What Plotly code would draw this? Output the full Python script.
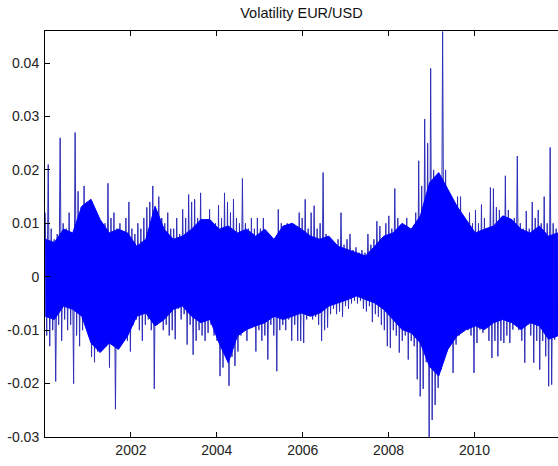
import pandas as pd
import plotly.graph_objects as go

# Daily EUR/USD return extremes, in units of 1e-3
# (one high and one low per ~3-pixel slice, left to right)
hi_a = [12, 21, 9, 7, 8, 26, 10, 9, 12, 8, 27, 16, 13, 17, 14, 11, 10, 12, 9, 8, 10, 17.5,
        11, 12, 9, 10, 8, 11, 14, 9, 8, 10, 9, 11, 13, 14, 17, 12, 15, 11, 10, 12, 9]
lo_a = [-11, -13, -10, -19.6, -9, -12, -8, -10, -9, -20, -11, -13, -10, -9, -8, -15, -16, -14,
        -12, -11, -13, -17, -12, -24.8, -13, -11, -10, -12, -14, -9, -8, -10, -12, -9, -8, -10,
        -21, -9, -8, -10, -9, -11, -10]
hi_b = [9, 11, 8, 12.6, 11, 15.4, 14, 14.5, 11, 15.7, 10, 9, 12.6, 9, 10, 13.4, 11, 15.7, 14, 12,
        14.5, 11, 10, 18.4, 10, 9, 11, 9, 11, 9, 11, 8, 6, 5.5, 7, 12.6, 10, 8, 10, 8, 9, 8, 12]
lo_b = [-11.7, -6, -8, -7, -12.7, -9, -14.6, -12, -10, -11, -12, -10.5, -9, -11, -12, -18.6, -17,
        -14, -20.4, -15, -16.7, -14, -11, -10, -12, -9, -8, -14, -10, -12, -11, -15.5, -9, -11,
        -17.7, -10, -9, -10, -8, -12, -9, -12, -12]
hi_c = [11, 14.5, 9, 12, 13.3, 9, 10, 19.5, 8, 7, 6, 5.5, 7, 12, 6, 7, 8, 5, 5.5, 4.5, 5, 4.5, 8,
        6, 7, 10.4, 9.5, 7, 10, 11.4, 9, 16.5, 11, 9, 8, 11, 9, 8, 12, 21.7, 17, 29.5, 25]
lo_c = [-12.4, -8, -7, -8, -7.5, -9, -12, -10, -9.5, -7, -6, -7, -6.5, -7.5, -5.5, -6, -5, -4.5,
        -5, -4.5, -6, -6.5, -5.5, -8.5, -7, -7.5, -9, -10, -13, -13.3, -10, -11, -14.2, -12, -11,
        -15.5, -12, -13, -19.2, -22.4, -21, -16, -30]
hi_d = [39, 20, 15, 14, 45.9, 20, 12.5, 14, 11, 15, 15, 10, 9, 12, 10, 12.5, 10, 13.5, 11, 9,
        16.7, 16.5, 13, 12.5, 10, 18.9, 12.5, 10, 11, 22.6, 10, 9, 12.3, 9, 14, 11, 12.5, 10, 15,
        10, 24.2, 10, 9]
lo_d = [-26.8, -24, -20.8, -17.4, -12, -11.1, -10, -18, -12.7, -11, -9.3, -8.6, -10, -11, -18,
        -12.4, -9.9, -10.5, -9.3, -12, -15.2, -12, -14.9, -12, -12.4, -11, -12.4, -9.9, -8.6, -10,
        -12, -16.1, -9, -11, -16.1, -12, -17.4, -12, -14.9, -20.5, -20.2, -11.8, -9]

# Dense core of the series (solid band), upper and lower edge every ~9 px, units of 1e-3
core_top = [7, 6.4, 8.9, 8.2, 13.2, 14.5, 10.7, 8.2, 8.9, 8.2, 5.7, 7, 13.2, 8.9, 7, 7.6, 8.9,
            10.7, 10.7, 8.9, 9.5, 8.2, 8.9, 7.6, 8.9, 7, 9.5, 10, 8.9, 7.6, 7, 7.6, 5.7, 5.1, 4.5,
            3.9, 5.7, 7.6, 8.2, 10, 8.9, 11.4, 17.6, 19.5, 16.4, 13.2, 10.7, 8.2, 8.9, 9.5, 11.4,
            10.7, 8.9, 8.2, 9.5, 7.6, 8.2]
core_bot = [-7.4, -8, -5.5, -6.1, -7.4, -12.4, -14.2, -12.4, -13.6, -11.1, -7.4, -6.8, -9.2, -8,
            -6.1, -5.5, -7.4, -8.6, -8, -12.4, -16.1, -11.1, -9.9, -9.2, -8.6, -7.4, -8, -7.4,
            -6.8, -7.4, -6.8, -5.5, -4.9, -4.3, -3.6, -4.3, -4.9, -6.1, -8, -9.9, -10.5, -12.4,
            -16.8, -18.6, -13.6, -11.1, -9.9, -9.2, -9.9, -8.6, -8, -8.6, -9.9, -8.6, -9.2, -11.7,
            -11.1]

ytick_vals = [40, 30, 20, 10, 0, -10, -20, -30]
ytick_text = ["0.04", "0.03", "0.02", "0.01", "0", "-0.01", "-0.02", "-0.03"]
xtick_years = ["2002", "2004", "2006", "2008", "2010"]
title_text = "Volatility EUR/USD"

hi = hi_a + hi_b + hi_c + hi_d
lo = lo_a + lo_b + lo_c + lo_d
values = []
for h, l in zip(hi, lo):
    values += [h, l]
dates = pd.date_range("2000-01-03", "2011-12-09", periods=len(values))
core_dates = pd.date_range("2000-01-03", "2011-12-09", periods=len(core_top))

font = "Arial, 'Liberation Sans', Helvetica, sans-serif"
fig = go.Figure()
fig.add_trace(go.Scatter(x=dates, y=values, mode="lines",
                         line=dict(color="#2e2eb8", width=1), showlegend=False,
                         hoverinfo="skip"))
fig.add_trace(go.Scatter(x=list(core_dates) + list(core_dates[::-1]),
                         y=core_top + core_bot[::-1], mode="lines", fill="toself",
                         fillcolor="#0000ff", line=dict(color="#0000ff", width=1),
                         showlegend=False, hoverinfo="skip"))
xr = ["2000-01-01", "2011-12-12"]
yr = [-30, 46]
fig.update_layout(
    width=558, height=466,
    margin=dict(l=45, r=0, t=31, b=29),
    paper_bgcolor="white", plot_bgcolor="white",
    title=dict(text=title_text, x=0.5, xref="paper", y=1 - 13 / 466, yref="container",
               yanchor="middle", font=dict(family=font, size=14.5, color="#111")),
    xaxis=dict(range=xr, tickvals=[y + "-01-01" for y in xtick_years], ticktext=xtick_years,
               ticks="inside", ticklen=5, tickcolor="#000", showline=True, linecolor="#000",
               linewidth=1, mirror="ticks", showgrid=False, zeroline=False,
               tickfont=dict(family=font, size=14, color="#222")),
    yaxis=dict(range=yr, tickvals=ytick_vals, ticktext=ytick_text, ticks="inside", ticklen=5,
               tickcolor="#000", showline=True, linecolor="#000", linewidth=1, showgrid=False,
               zeroline=False, ticklabelstandoff=2,
               tickfont=dict(family=font, size=14, color="#222")),
    yaxis2=dict(range=yr, overlaying="y", side="right", tickvals=ytick_vals, ticks="inside",
                ticklen=5, tickcolor="#000", showticklabels=False, showline=False,
                showgrid=False, zeroline=False),
)
fig.write_html("out.html")
